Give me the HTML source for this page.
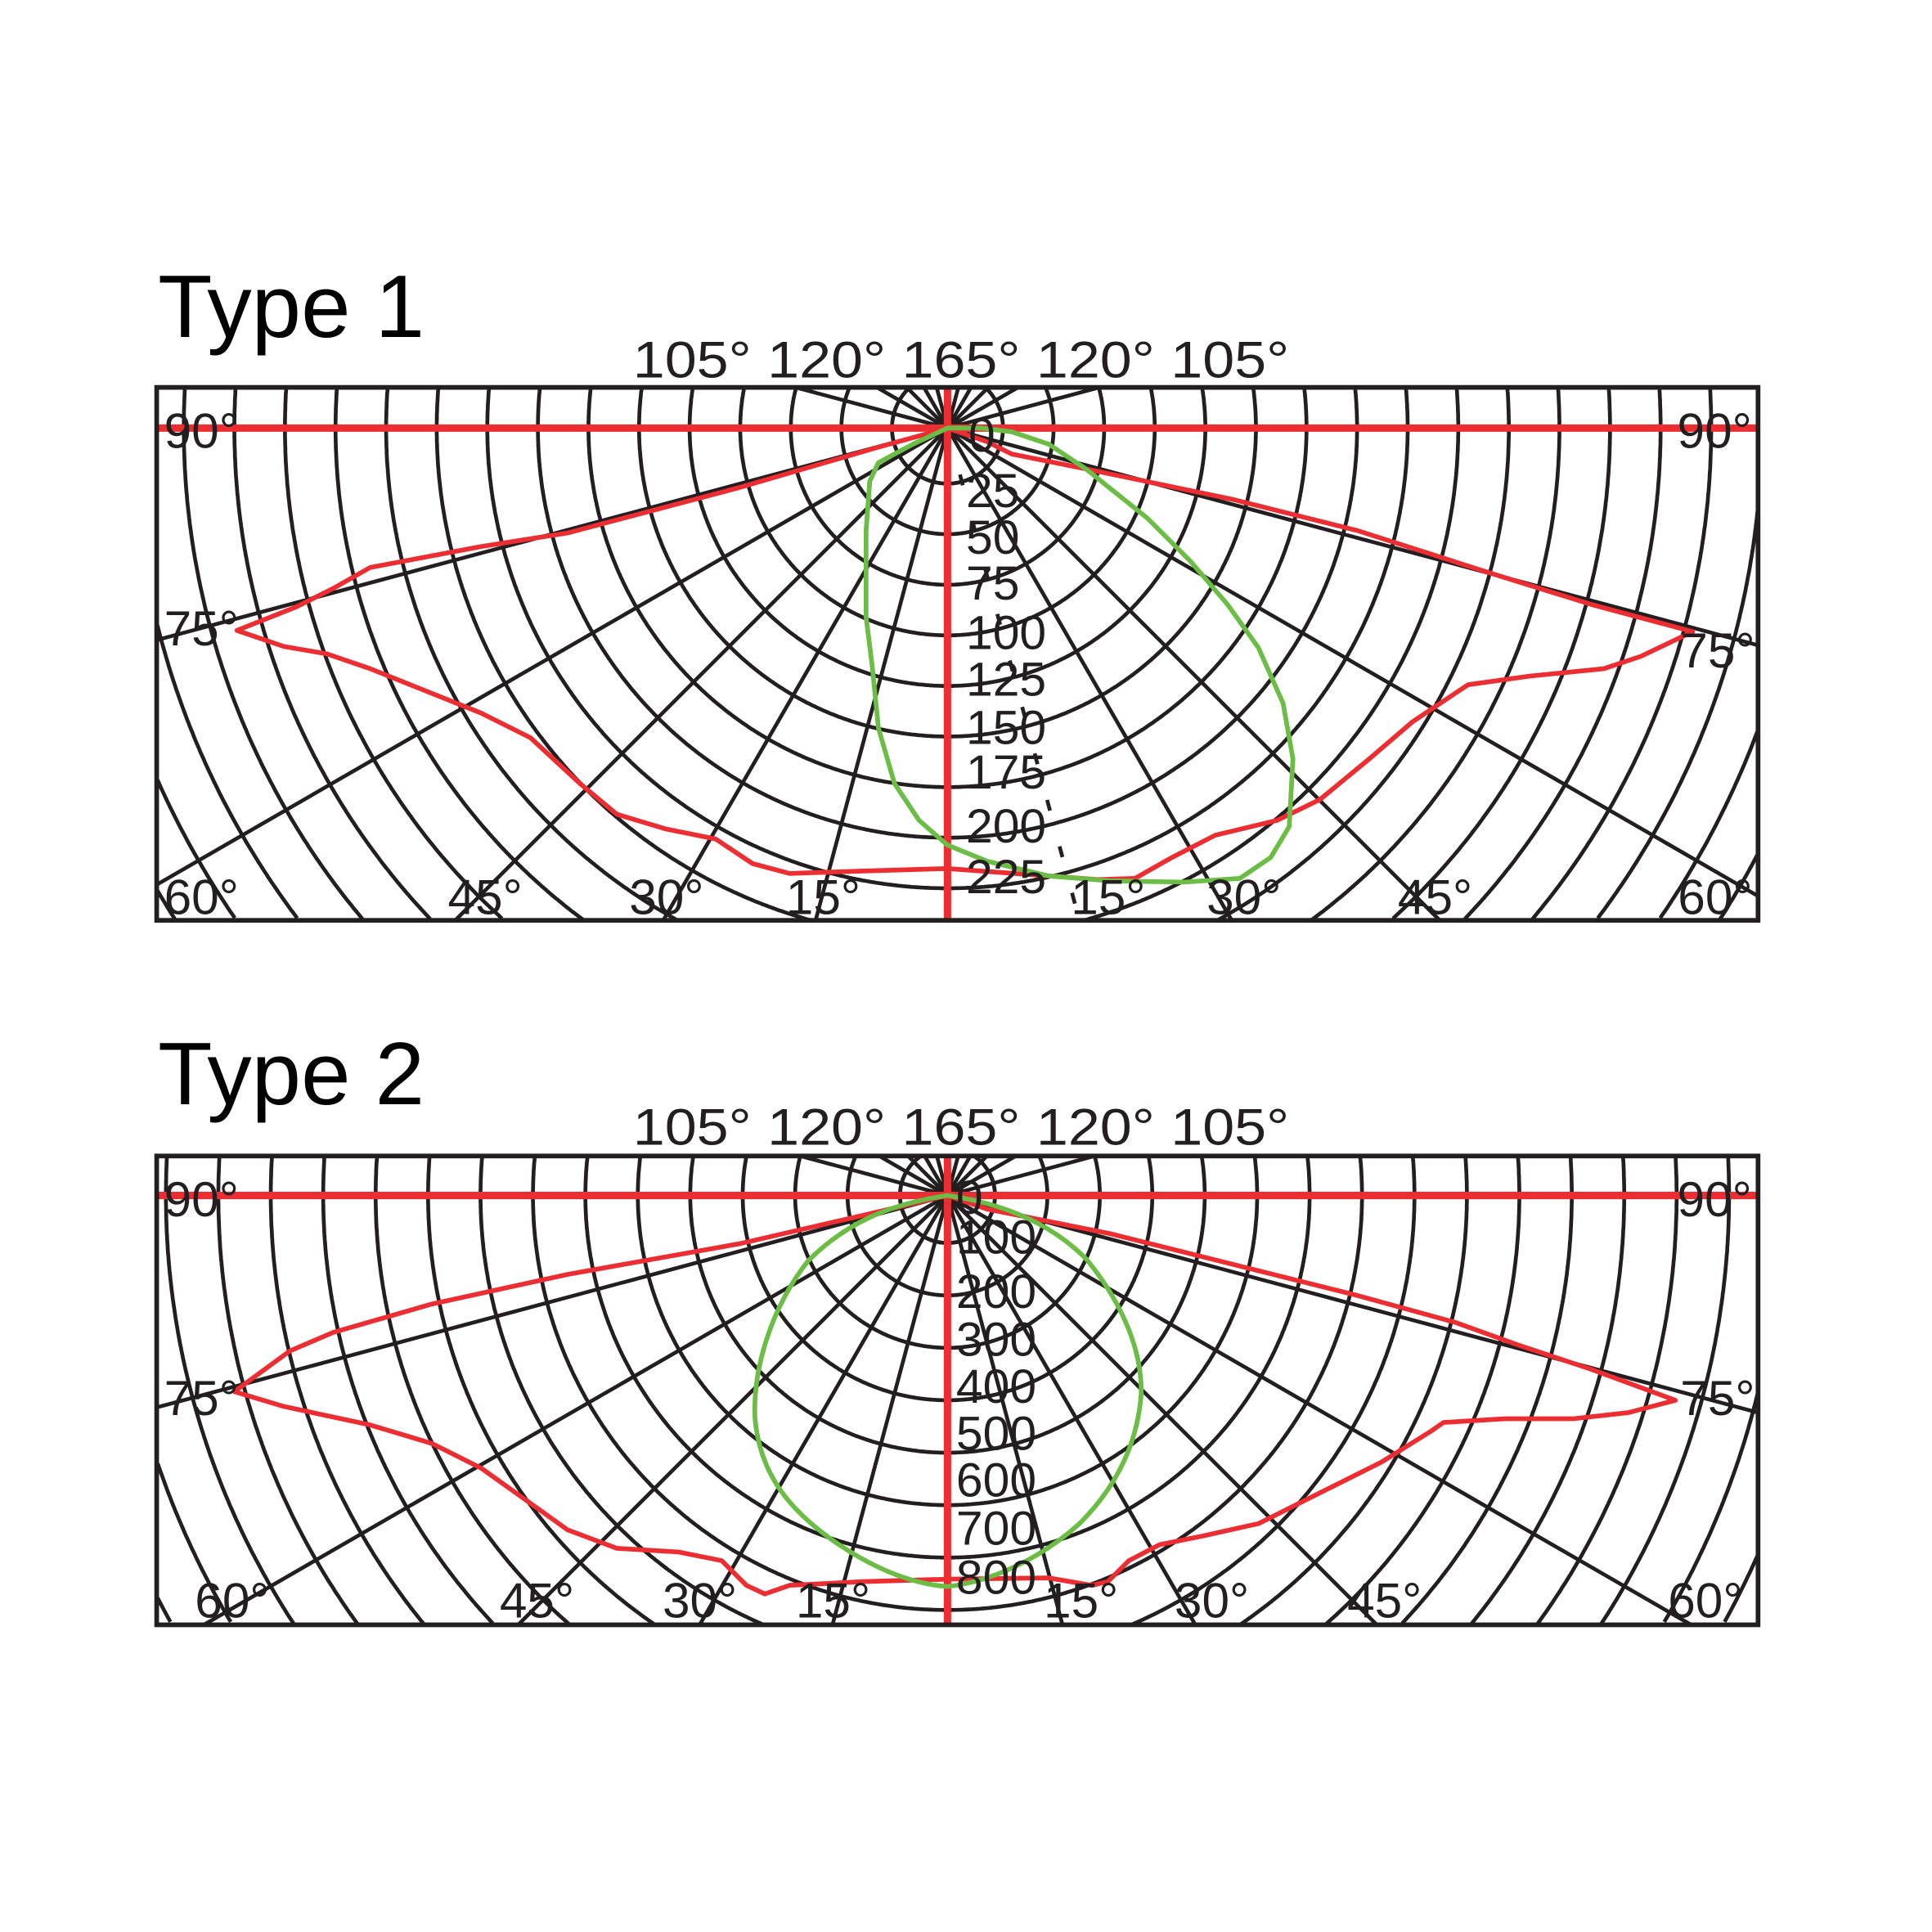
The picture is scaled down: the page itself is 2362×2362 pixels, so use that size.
<!DOCTYPE html>
<html><head><meta charset="utf-8"><style>
html,body{margin:0;padding:0;background:#fff;width:2362px;height:2362px;overflow:hidden}
svg{display:block}
text{font-family:"Liberation Sans",sans-serif;fill:#231f20}
</style></head><body>
<svg id="s" width="2362" height="2362" viewBox="0 0 1566 1566" xmlns="http://www.w3.org/2000/svg">
<rect width="1566" height="1566" fill="#fff"/>
<g id="grid1" fill="none" stroke="#231f20" stroke-width="3.1"></g>
<g id="grid2" fill="none" stroke="#231f20" stroke-width="3.1"></g>

<!-- TYPE 1 -->
<text x="128" y="273" font-size="72" style="fill:#000">Type 1</text>
<text x="513" y="306" font-size="42" textLength="532" lengthAdjust="spacingAndGlyphs">105° 120° 165° 120° 105°</text>
<g stroke="#ec2d32" stroke-width="6" fill="none">
<line x1="127" y1="347" x2="1425" y2="347"/>
<line x1="768" y1="314" x2="768" y2="746"/>
</g>
<path fill="none" stroke="#ec2d32" stroke-width="3.8" stroke-linejoin="round" d="M768,347 L710,363 L600,395 L460,432 L390,443 L300,460 L270,477 L240,492 L192,511 L230,524 L265,530 L300,542 L390,578 L430,598 L470,635 L500,660 L540,672 L580,680 L610,700 L640,708 L700,706 L768,704 L850,710 L890,713 L920,712 L950,695 L985,677 L1035,665 L1070,648 L1110,615 L1145,585 L1190,555 L1240,548 L1300,542 L1330,532 L1372,512 L1290,490 L1200,462 L1100,430 L1000,405 L880,380 L820,368 L800,358 Z"/>
<path fill="none" stroke="#6bbd45" stroke-width="3.8" stroke-linejoin="round" d="M768,347 L740,360 L712,375 L705,390 L702,430 L702,500 L707,540 L712,590 L725,635 L745,665 L768,685 L800,698 L850,710 L900,714 L960,715 L1005,712 L1030,695 L1045,670 L1048,615 L1040,570 L1020,525 L995,490 L965,455 L930,420 L880,380 L850,360 L820,350 L795,347 Z"/>
<rect x="127" y="314" width="1298" height="432" fill="none" stroke="#231f20" stroke-width="3.8"/>
<g font-size="40">
<text x="133" y="363">90°</text><text x="1420" y="363" text-anchor="end">90°</text>
<text x="133" y="523">75°</text><text x="1362" y="541">75°</text>
<text x="133" y="741">60°</text><text x="363" y="741">45°</text><text x="510" y="741">30°</text><text x="637" y="741">15°</text>
<text x="868" y="741">15°</text><text x="978" y="741">30°</text><text x="1133" y="741">45°</text><text x="1360" y="741">60°</text>
</g>
<g font-size="39">
<text x="785" y="366">0</text><text x="783" y="411">25</text><text x="783" y="449">50</text><text x="783" y="486">75</text>
<text x="783" y="526">100</text><text x="783" y="564">125</text><text x="783" y="603">150</text><text x="783" y="639">175</text>
<text x="783" y="683">200</text><text x="783" y="724">225</text>
</g>

<!-- TYPE 2 -->
<text x="128" y="895" font-size="72" style="fill:#000">Type 2</text>
<text x="513" y="928" font-size="42" textLength="532" lengthAdjust="spacingAndGlyphs">105° 120° 165° 120° 105°</text>
<g stroke="#ec2d32" stroke-width="6" fill="none">
<line x1="127" y1="969" x2="1425" y2="969"/>
<line x1="768" y1="937" x2="768" y2="1317"/>
</g>
<path fill="none" stroke="#ec2d32" stroke-width="3.8" stroke-linejoin="round" d="M768,969 L700,985 L600,1008 L460,1033 L350,1057 L270,1080 L235,1095 L190,1128 L230,1140 L300,1155 L350,1170 L390,1190 L425,1215 L460,1240 L500,1255 L550,1258 L585,1265 L605,1285 L620,1292 L640,1285 L700,1282 L768,1280 L850,1279 L885,1285 L898,1282 L915,1265 L940,1252 L975,1245 L1020,1235 L1060,1215 L1120,1185 L1160,1160 L1170,1153 L1220,1150 L1275,1150 L1320,1145 L1358,1135 L1290,1110 L1230,1090 L1180,1072 L1100,1050 L1000,1025 L900,1000 L800,980 Z"/>
<path fill="none" stroke="#6bbd45" stroke-width="3.8" stroke-linejoin="round" d="M768,969 C720,976 685,992 655,1022 C625,1060 610,1110 612,1150 C616,1195 640,1225 680,1252 C710,1272 740,1284 768,1286 C805,1282 845,1262 875,1235 C905,1205 922,1170 925,1130 C926,1090 905,1050 880,1020 C850,990 810,975 768,969 Z"/>
<rect x="127" y="937" width="1298" height="380" fill="none" stroke="#231f20" stroke-width="3.8"/>
<g font-size="40">
<text x="133" y="986">90°</text><text x="1420" y="986" text-anchor="end">90°</text>
<text x="133" y="1147">75°</text><text x="1362" y="1147">75°</text>
<text x="158" y="1311">60°</text><text x="405" y="1311">45°</text><text x="537" y="1311">30°</text><text x="645" y="1311">15°</text>
<text x="846" y="1311">15°</text><text x="952" y="1311">30°</text><text x="1092" y="1311">45°</text><text x="1352" y="1311">60°</text>
</g>
<g font-size="39">
<text x="775" y="984">0</text><text x="775" y="1016">100</text><text x="775" y="1060">200</text><text x="775" y="1099">300</text>
<text x="775" y="1137">400</text><text x="775" y="1175">500</text><text x="775" y="1213">600</text><text x="775" y="1252">700</text>
<text x="775" y="1292">800</text>
</g>
</svg>
<script>
(function(){
var NS="http://www.w3.org/2000/svg";
function build(gid,cx,cy,L,T,R,B,radii,dashRight15){
  var g=document.getElementById(gid);
  function inside(x,y){return x>=L&&x<=R&&y>=T&&y<=B;}
  radii.forEach(function(r){
    var N=1440,runs=[],cur=null,startIdx=0;
    // find a starting index that is outside, to avoid splitting a run
    for(var s=0;s<N;s++){var a=2*Math.PI*s/N;if(!inside(cx+r*Math.cos(a),cy+r*Math.sin(a))){startIdx=s;break;}}
    for(var i=0;i<=N;i++){
      var a=2*Math.PI*(i+startIdx)/N,x=cx+r*Math.cos(a),y=cy+r*Math.sin(a);
      if(inside(x,y)){if(!cur){cur=[];runs.push(cur);}cur.push(x.toFixed(1)+","+y.toFixed(1));}
      else cur=null;
    }
    runs.forEach(function(pts){if(pts.length<2)return;var p=document.createElementNS(NS,"polyline");p.setAttribute("points",pts.join(" "));g.appendChild(p);});
  });
  for(var d=0;d<360;d+=15){
    if(d%90===0)continue;
    var a=d*Math.PI/180,dx=Math.sin(a),dy=Math.cos(a),t=1e9;
    if(dx>0)t=Math.min(t,(R-cx)/dx); if(dx<0)t=Math.min(t,(L-cx)/dx);
    if(dy>0)t=Math.min(t,(B-cy)/dy); if(dy<0)t=Math.min(t,(T-cy)/dy);
    var ln=document.createElementNS(NS,"line");
    ln.setAttribute("x1",cx);ln.setAttribute("y1",cy);
    ln.setAttribute("x2",(cx+dx*t).toFixed(1));ln.setAttribute("y2",(cy+dy*t).toFixed(1));
    if(dashRight15&&d===15)ln.setAttribute("stroke-dasharray","9 30");
    g.appendChild(ln);
  }
}
var r1=[],r2=[];
for(var k=1;k<=19;k++){r1.push(41*k+4);r2.push(42.5*k-4);}
build("grid1",768,347,127,314,1425,746,r1,true);
build("grid2",768,969,127,937,1425,1317,r2,false);
})();
</script>
</body></html>
